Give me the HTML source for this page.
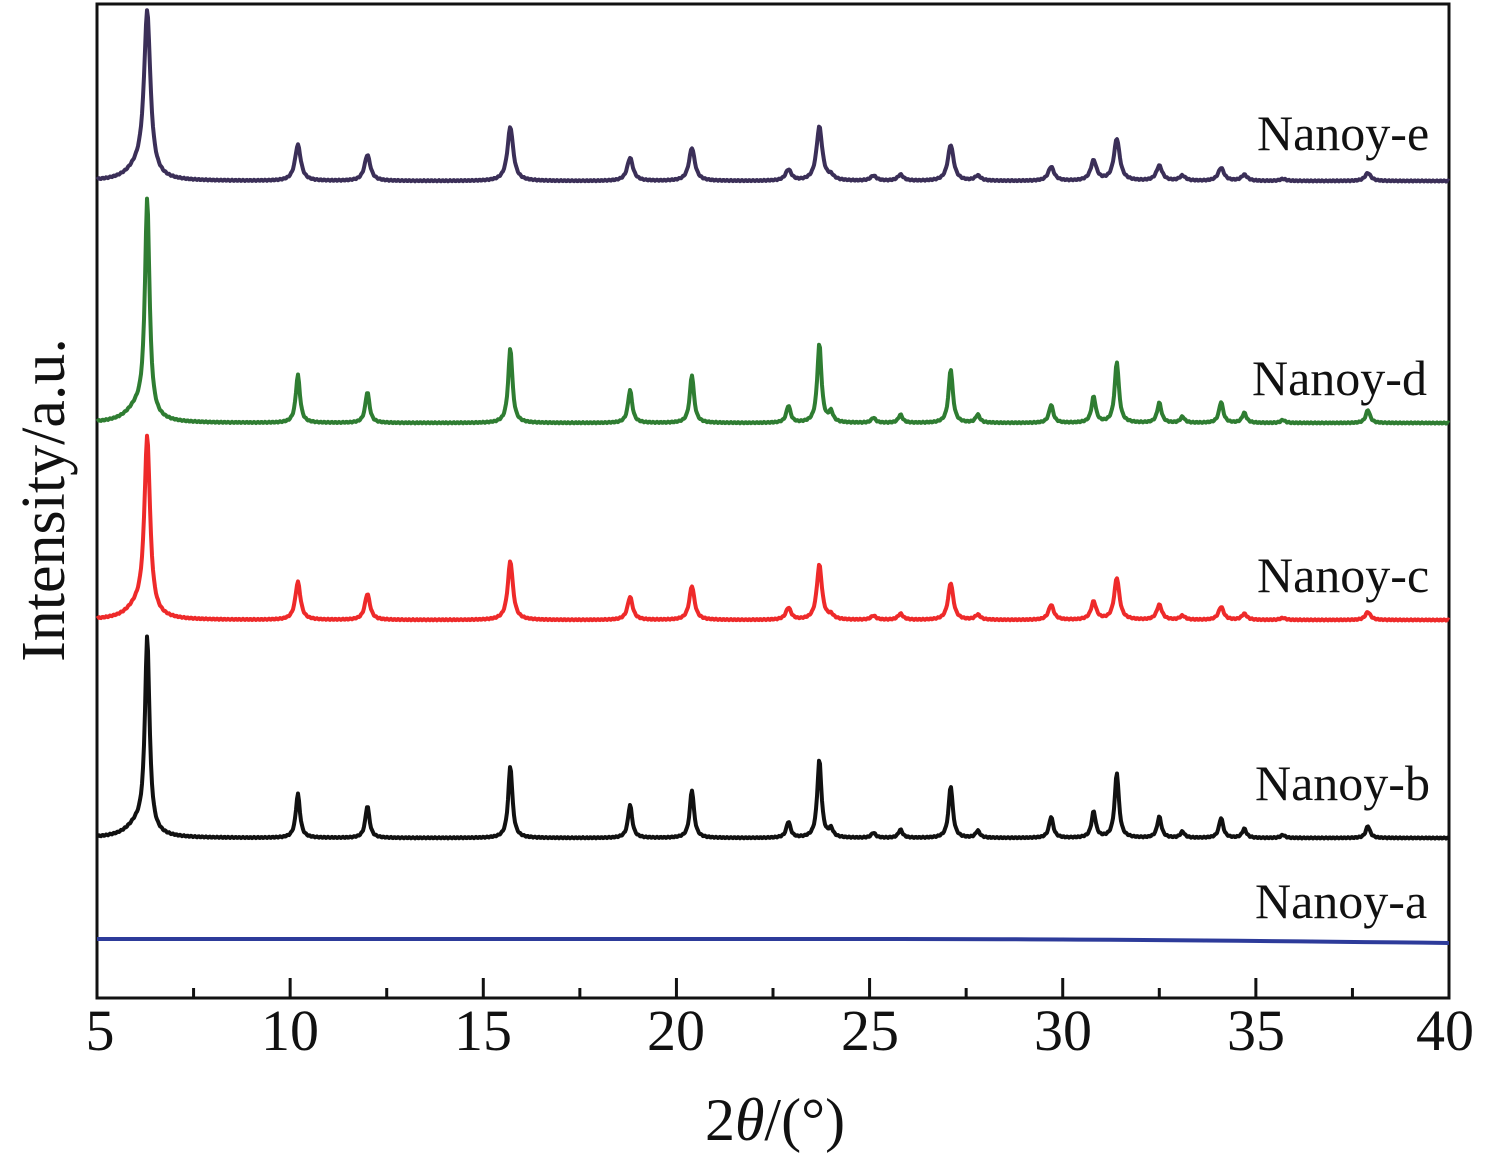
<!DOCTYPE html>
<html><head><meta charset="utf-8"><style>
html,body{margin:0;padding:0;background:#fff;}
svg{display:block;}
text{font-family:"Liberation Serif",serif;fill:#111;}
</style></head><body>
<svg id="s" width="1498" height="1153" viewBox="0 0 1498 1153" xmlns="http://www.w3.org/2000/svg">
<rect x="97" y="4" width="1352" height="994" fill="none" stroke="#111" stroke-width="3"/>
<g id="ticks" stroke="#111" stroke-width="3"></g>
<g id="series" fill="none" stroke-width="4" stroke-linejoin="round"></g>
<g font-size="58" text-anchor="middle">
<text x="100" y="1050">5</text><text x="290" y="1050">10</text><text x="483" y="1050">15</text>
<text x="676" y="1050">20</text><text x="870" y="1050">25</text><text x="1063" y="1050">30</text>
<text x="1256" y="1050">35</text><text x="1445" y="1050">40</text>
</g>
<text x="775" y="1140" font-size="60" text-anchor="middle">2<tspan font-style="italic">θ</tspan>/(°)</text>
<text transform="translate(64,500) rotate(-90)" font-size="62" text-anchor="middle">Intensity/a.u.</text>
<g font-size="50">
<text x="1257" y="150">Nanoy-e</text>
<text x="1252" y="395">Nanoy-d</text>
<text x="1257" y="592">Nanoy-c</text>
<text x="1255" y="800">Nanoy-b</text>
<text x="1255" y="918">Nanoy-a</text>
</g>
</svg>
<script>
const X=t=>97+(t-5)*38.629;
let tk='';
for(let t=7.5;t<40;t+=2.5){const maj=Math.abs(t/5-Math.round(t/5))<1e-6;tk+=`<line x1="${X(t)}" y1="998" x2="${X(t)}" y2="${maj?978:988}"/>`;}
document.getElementById('ticks').innerHTML=tk;
const P=[6.3,10.2,12.0,15.7,18.8,20.4,22.9,23.7,24.0,25.1,25.8,27.1,27.8,29.7,30.8,31.4,32.5,33.1,34.1,34.7,35.7,37.9];
const S=[
 {c:'#3b2f58',b:181,w:0.09,h:[163,36,26,54,23,33,11,54,4,5,6,36,5,14,20,42,15,5,13,6,2,8]},
 {c:'#2f7d32',b:423,w:0.065,h:[215,48,31,75,33,48,17,79,10,5,8,54,8,18,26,61,20,6,21,10,3,13]},
 {c:'#ee2a2a',b:620,w:0.08,h:[176,38,26,59,23,34,12,55,4,4,6,37,5,15,18,42,15,4,13,6,2,8]},
 {c:'#111111',b:838,w:0.065,h:[193,44,32,72,33,48,16,78,8,5,8,52,7,21,26,65,21,6,20,9,3,12]}
];
let out='';
for(const s of S){
 let d='';
 for(let px=97;px<=1449;px+=1){
  const t=5+(px-97)/38.629;let y=0;
  for(let i=0;i<P.length;i++){
   let w=s.w; if(i==0) w=s.w*1.1;
   const u=(t-P[i])/w; y+=s.h[i]/(1+u*u);
  }
  const u2=(t-6.05)/0.35; y+=s.h[0]*0.07/(1+u2*u2);
  const n=Math.sin(px*1.7)*0.6;
  d+=(px==97?'M':'L')+px+','+(s.b-y+n).toFixed(1);
 }
 out+=`<path d="${d}" stroke="${s.c}"/>`;
}
out+=`<path d="M97,939 L900,939 Q1100,939 1449,943" stroke="#2d3b9a" stroke-width="4"/>`;
document.getElementById('series').innerHTML=out;
</script>
</body></html>
